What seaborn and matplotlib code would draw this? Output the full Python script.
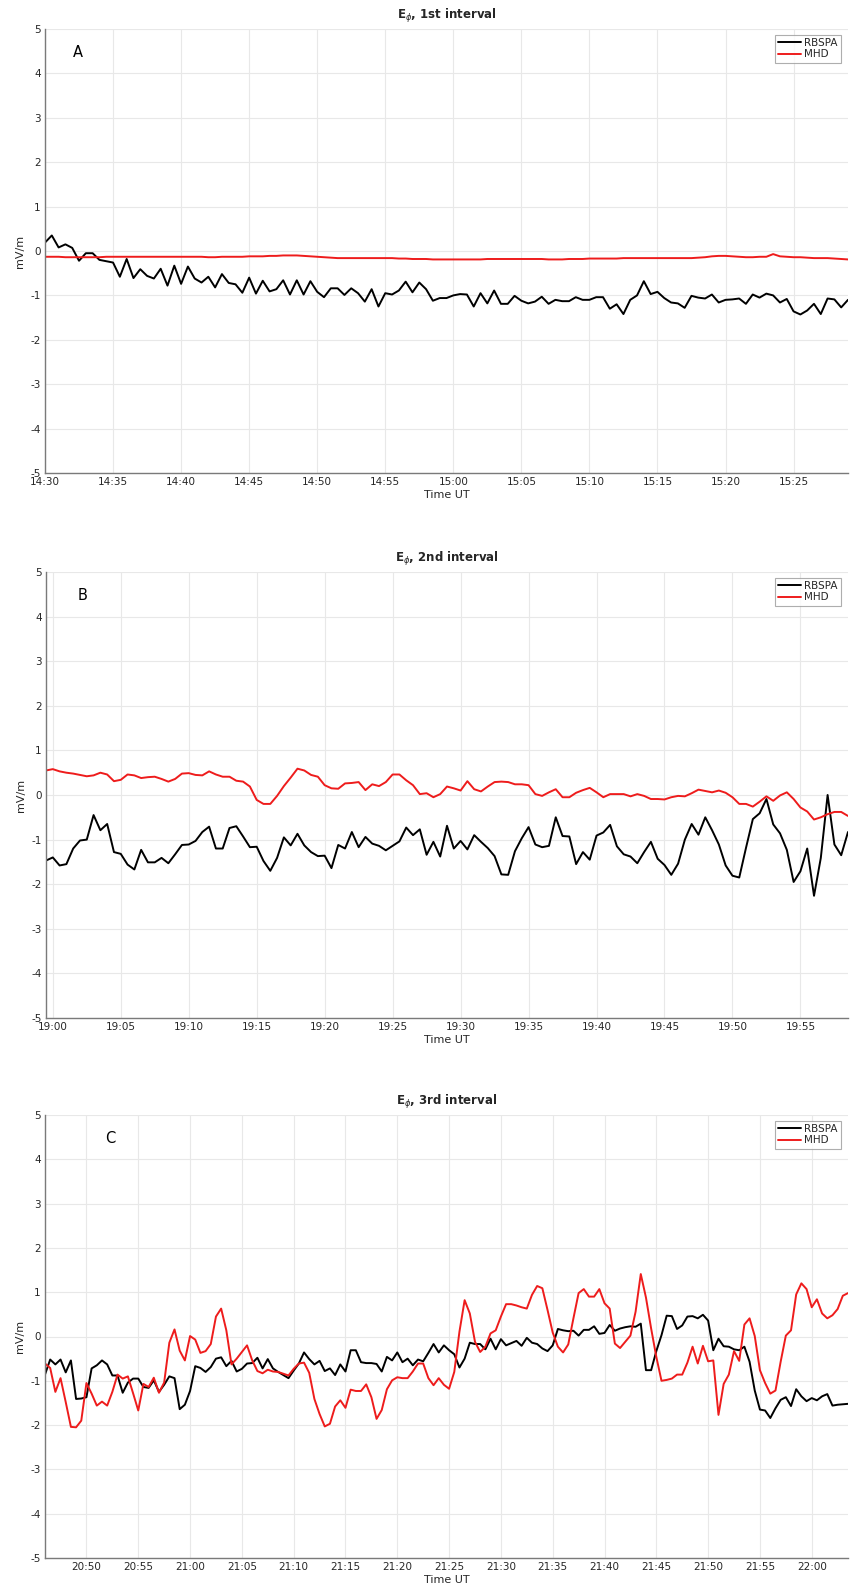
import numpy as np
import pandas as pd
import matplotlib
matplotlib.use("Agg")
import matplotlib.pyplot as plt
import matplotlib.dates as mdates
import seaborn as sns

# ---------------- data (30 s cadence) ----------------
start_A = "2000-01-01 14:30:00"
rbspa_A = [0.19, 0.35, 0.08, 0.15, 0.07, -0.22, -0.05, -0.05, -0.20, -0.23,
           -0.26, -0.58, -0.18, -0.61, -0.41, -0.56, -0.62, -0.40, -0.78, -0.33,
           -0.74, -0.35, -0.62, -0.71, -0.58, -0.82, -0.52, -0.72, -0.75, -0.94,
           -0.60, -0.96, -0.67, -0.91, -0.86, -0.66, -0.98, -0.66, -0.98, -0.68,
           -0.92, -1.04, -0.84, -0.84, -0.99, -0.84, -0.95, -1.14, -0.86, -1.25,
           -0.95, -0.98, -0.89, -0.69, -0.93, -0.71, -0.86,
           -1.12, -1.06, -1.06, -1.00, -0.97, -0.98, -1.25, -0.95, -1.18, -0.89,
           -1.19, -1.19, -1.01, -1.12, -1.18, -1.14, -1.03, -1.19, -1.10, -1.13,
           -1.13, -1.04, -1.10, -1.10, -1.04, -1.04, -1.30, -1.20, -1.42, -1.10,
           -1.00, -0.68, -0.97, -0.92, -1.06, -1.16, -1.18, -1.28, -1.01, -1.05,
           -1.07, -0.98, -1.16, -1.10, -1.09, -1.07, -1.19, -0.98, -1.05, -0.96,
           -1.00, -1.16, -1.08, -1.36, -1.43, -1.34, -1.19, -1.42, -1.07, -1.09,
           -1.27, -1.10]
mhd_A = [-0.13, -0.13, -0.13, -0.14, -0.14, -0.14, -0.14, -0.14, -0.14, -0.13,
         -0.13, -0.13, -0.13, -0.13, -0.13, -0.13, -0.13, -0.13,
         -0.13, -0.13, -0.13, -0.13, -0.13, -0.13, -0.14, -0.14, -0.13, -0.13,
         -0.13, -0.13,
         -0.12, -0.12, -0.12, -0.11, -0.11, -0.10, -0.10, -0.10, -0.11, -0.12,
         -0.13, -0.14, -0.15, -0.16, -0.16, -0.16, -0.16, -0.16, -0.16, -0.16,
         -0.16, -0.16, -0.17, -0.17, -0.18, -0.18, -0.18, -0.19, -0.19, -0.19,
         -0.19, -0.19, -0.19, -0.19, -0.19, -0.18, -0.18, -0.18, -0.18, -0.18,
         -0.18, -0.18, -0.18, -0.18, -0.19, -0.19, -0.19, -0.18, -0.18, -0.18,
         -0.17, -0.17, -0.17, -0.17, -0.17, -0.16, -0.16, -0.16, -0.16, -0.16,
         -0.16, -0.16, -0.16, -0.16, -0.16, -0.16, -0.15, -0.14, -0.12, -0.11,
         -0.11, -0.12, -0.13, -0.14, -0.14, -0.13, -0.13, -0.07, -0.12, -0.13,
         -0.14, -0.14, -0.15, -0.16, -0.16, -0.16, -0.17, -0.18, -0.19]

start_B = "2000-01-01 18:59:30"
rbspa_B = [-1.47, -1.40, -1.58, -1.55, -1.20, -1.02, -1.00, -0.45, -0.79, -0.65,
           -1.28, -1.32, -1.56, -1.67, -1.23, -1.51, -1.51, -1.41, -1.53, -1.33,
           -1.12, -1.11, -1.03, -0.83, -0.71, -1.20, -1.20, -0.74, -0.70, -0.93,
           -1.17, -1.16, -1.48, -1.70, -1.41, -0.95, -1.13, -0.87, -1.13, -1.28,
           -1.37, -1.36, -1.64, -1.12, -1.20, -0.83, -1.17, -0.94, -1.09, -1.14,
           -1.24, -1.14, -1.04, -0.73, -0.90, -0.77, -1.34, -1.05, -1.38, -0.69,
           -1.20, -1.03, -1.22, -0.90, -1.05, -1.19, -1.37, -1.78, -1.79, -1.26,
           -0.97, -0.72, -1.11, -1.17, -1.14, -0.50, -0.92, -0.93, -1.55, -1.28,
           -1.45, -0.91, -0.84, -0.67, -1.15, -1.33, -1.38, -1.53, -1.28, -1.05,
           -1.43, -1.57, -1.79, -1.54, -1.00, -0.65, -0.89, -0.50, -0.79, -1.11,
           -1.58, -1.81, -1.85, -1.18, -0.54, -0.41, -0.09, -0.66, -0.86, -1.23,
           -1.95, -1.71, -1.20, -2.26, -1.41, 0.00, -1.11, -1.35, -0.83]
mhd_B = [0.55, 0.58, 0.53, 0.50, 0.48, 0.45, 0.42, 0.44, 0.50, 0.46,
         0.31, 0.34, 0.46, 0.44, 0.38, 0.40, 0.41, 0.36, 0.30, 0.36,
         0.48, 0.49, 0.45, 0.44, 0.53, 0.46, 0.41, 0.41, 0.32, 0.30,
         0.19, -0.11, -0.20, -0.20, -0.02, 0.20, 0.39, 0.59, 0.55, 0.45,
         0.41, 0.22, 0.15, 0.14, 0.26, 0.27, 0.29, 0.11, 0.24, 0.20,
         0.29, 0.46, 0.46, 0.33, 0.22, 0.02, 0.04, -0.05, 0.02, 0.19,
         0.15, 0.10, 0.31, 0.13, 0.08, 0.19, 0.29, 0.30, 0.29, 0.24,
         0.24, 0.22, 0.02, -0.02, 0.06, 0.13, -0.05, -0.05, 0.05, 0.11,
         0.16, 0.06, -0.05, 0.02, 0.02, 0.02, -0.03, 0.02, -0.02, -0.09,
         -0.09, -0.10, -0.05, -0.02, -0.03, 0.04, 0.12, 0.09, 0.06, 0.10,
         0.05, -0.05, -0.20, -0.20, -0.26, -0.15, -0.03, -0.13, -0.01, 0.06,
         -0.09, -0.28, -0.37, -0.55, -0.50, -0.43, -0.38, -0.38, -0.47]

start_C = "2000-01-01 20:46:00"
rbspa_C = [-0.86, -0.52, -0.63, -0.52, -0.81, -0.54, -1.41, -1.40, -1.37, -0.72,
           -0.65, -0.54, -0.63, -0.88, -0.88, -1.27, -1.04, -0.95, -0.95, -1.14,
           -1.16, -0.99, -1.25, -1.09, -0.90, -0.94, -1.64, -1.54, -1.23, -0.67,
           -0.71, -0.80, -0.69, -0.50, -0.47, -0.67, -0.55, -0.79, -0.73, -0.61,
           -0.60, -0.48, -0.72, -0.51, -0.72, -0.80, -0.87, -0.94, -0.77, -0.61,
           -0.36, -0.51, -0.63, -0.55, -0.78, -0.72, -0.87, -0.63, -0.79, -0.31,
           -0.31, -0.58, -0.60, -0.60, -0.62, -0.79, -0.46, -0.54, -0.36, -0.58,
           -0.50, -0.65, -0.52, -0.56, -0.37, -0.17, -0.36, -0.20, -0.31, -0.40,
           -0.70, -0.50, -0.14, -0.17, -0.17, -0.29, -0.05, -0.29, -0.06, -0.20,
           -0.15, -0.10, -0.21, -0.03, -0.14, -0.17, -0.27, -0.33, -0.20, 0.17,
           0.14, 0.12, 0.13, 0.02, 0.15, 0.15, 0.23, 0.06, 0.08, 0.26,
           0.13, 0.18, 0.21, 0.23, 0.22, 0.29, -0.76, -0.76, -0.33, 0.03,
           0.47, 0.46, 0.17, 0.25, 0.45, 0.46, 0.41, 0.49, 0.36, -0.31,
           -0.05, -0.22, -0.23, -0.29, -0.31, -0.23, -0.57, -1.22, -1.65, -1.67,
           -1.84, -1.62, -1.43, -1.37, -1.57, -1.19, -1.35, -1.46, -1.39, -1.44,
           -1.35, -1.30, -1.56, -1.54, -1.53, -1.52]
mhd_C = [-0.61, -0.71, -1.25, -0.94, -1.48, -2.04, -2.05, -1.90, -1.05, -1.29,
         -1.56, -1.47, -1.56, -1.25, -0.86, -0.95, -0.90, -1.28, -1.67, -1.07,
         -1.14, -0.93, -1.27, -1.04, -0.14, 0.16, -0.32, -0.54, 0.01, -0.07,
         -0.37, -0.33, -0.17, 0.45, 0.63, 0.14, -0.63, -0.50, -0.35, -0.20,
         -0.54, -0.78, -0.83, -0.75, -0.79, -0.80, -0.84, -0.88, -0.73, -0.61,
         -0.59, -0.82, -1.41, -1.75, -2.03, -1.97, -1.58, -1.44, -1.61, -1.20,
         -1.23, -1.23, -1.08, -1.37, -1.86, -1.66, -1.19, -0.99, -0.92, -0.94,
         -0.94, -0.79, -0.61, -0.61, -0.94, -1.10, -0.94, -1.09, -1.18, -0.80,
         0.11, 0.82, 0.52, -0.12, -0.35, -0.23, 0.07, 0.14, 0.45, 0.73,
         0.73, 0.70, 0.66, 0.63, 0.94, 1.14, 1.09, 0.60, 0.09, -0.23,
         -0.36, -0.18, 0.41, 0.98, 1.07, 0.90, 0.90, 1.07, 0.75, 0.63,
         -0.16, -0.26, -0.12, 0.02, 0.56, 1.41, 0.88, 0.18, -0.46, -1.00,
         -0.98, -0.95, -0.86, -0.86, -0.59, -0.23, -0.61, -0.21, -0.56, -0.54,
         -1.77, -1.07, -0.86, -0.33, -0.55, 0.27, 0.41, 0.01, -0.76, -1.05,
         -1.29, -1.22, -0.57, 0.02, 0.14, 0.95, 1.20, 1.07, 0.66, 0.84,
         0.52, 0.41, 0.48, 0.62, 0.92, 0.98]

titles = [r"$\mathbf{E}_{\phi}$, 1st interval",
          r"$\mathbf{E}_{\phi}$, 2nd interval",
          r"$\mathbf{E}_{\phi}$, 3rd interval"]
panel_letters = ["A", "B", "C"]
series_names = ["RBSPA", "MHD"]
y_ticks = list(range(-5, 6))

# ---------------- style ----------------
sns.set_style("white")
plt.rcParams["font.family"] = ["DejaVu Sans"]
plt.rcParams["axes.unicode_minus"] = False
plt.rcParams["mathtext.fontset"] = "dejavusans"

W, H = 851, 1591
fig = plt.figure(figsize=(W / 100, H / 100), dpi=100)

# axes boxes in pixels: left, right, top, bottom
boxes = [(45, 848, 29, 473), (46, 848, 572, 1018), (45, 848, 1115, 1558)]
letter_x = [0.041, 0.045, 0.081]

panels = [(start_A, rbspa_A, mhd_A), (start_B, rbspa_B, mhd_B), (start_C, rbspa_C, mhd_C)]

for k, ((start, blk, red), (l, r, t, b)) in enumerate(zip(panels, boxes)):
    ax = fig.add_axes([l / W, 1 - b / H, (r - l) / W, (b - t) / H])
    tb = pd.date_range(start, periods=len(blk), freq="30s")
    tr = pd.date_range(start, periods=len(red), freq="30s")
    df_b = pd.DataFrame({"time": tb, "val": blk})
    df_r = pd.DataFrame({"time": tr, "val": red})
    sns.lineplot(data=df_b, x="time", y="val", ax=ax, color="black", lw=1.4,
                 label=series_names[0], estimator=None, sort=False)
    sns.lineplot(data=df_r, x="time", y="val", ax=ax, color="#ee1c1c", lw=1.4,
                 label=series_names[1], estimator=None, sort=False)

    ax.set_xlim(min(tb[0], tr[0]), max(tb[-1], tr[-1]))
    ax.set_ylim(-5, 5)
    ax.set_yticks(y_ticks)
    ax.set_yticklabels([str(v) for v in y_ticks])
    ax.xaxis.set_major_locator(mdates.MinuteLocator(byminute=range(0, 60, 5)))
    ax.xaxis.set_major_formatter(mdates.DateFormatter("%H:%M"))

    ax.grid(True, color="#e8e8e8", lw=0.8)
    ax.set_axisbelow(True)
    for s in ["top", "right"]:
        ax.spines[s].set_visible(False)
    for s in ["left", "bottom"]:
        ax.spines[s].set_color("#7a7a7a")
        ax.spines[s].set_linewidth(1.0)
    ax.tick_params(axis="both", direction="in", length=6, width=0.8,
                   color="#7a7a7a", labelsize=7.5, labelcolor="#262626", pad=3)

    ax.set_xlabel("Time UT", fontsize=8, color="#262626", labelpad=2)
    ax.set_ylabel("mV/m", fontsize=8, color="#262626", labelpad=4)
    ax.set_title(titles[k], fontsize=8.5, fontweight="bold", pad=7)
    ax.text(letter_x[k], 0.947, panel_letters[k], transform=ax.transAxes,
            fontsize=10.5, ha="center", va="center", color="black")

    leg = ax.legend(loc="upper right", bbox_to_anchor=(0.991, 0.987), fontsize=7.5,
                    frameon=True, fancybox=False, borderpad=0.3, handlelength=2.2,
                    handletextpad=0.3, labelspacing=0.15, borderaxespad=0.0)
    leg.get_frame().set_edgecolor("#9a9a9a")
    leg.get_frame().set_linewidth(0.8)

fig.savefig("out.png", dpi=100)
